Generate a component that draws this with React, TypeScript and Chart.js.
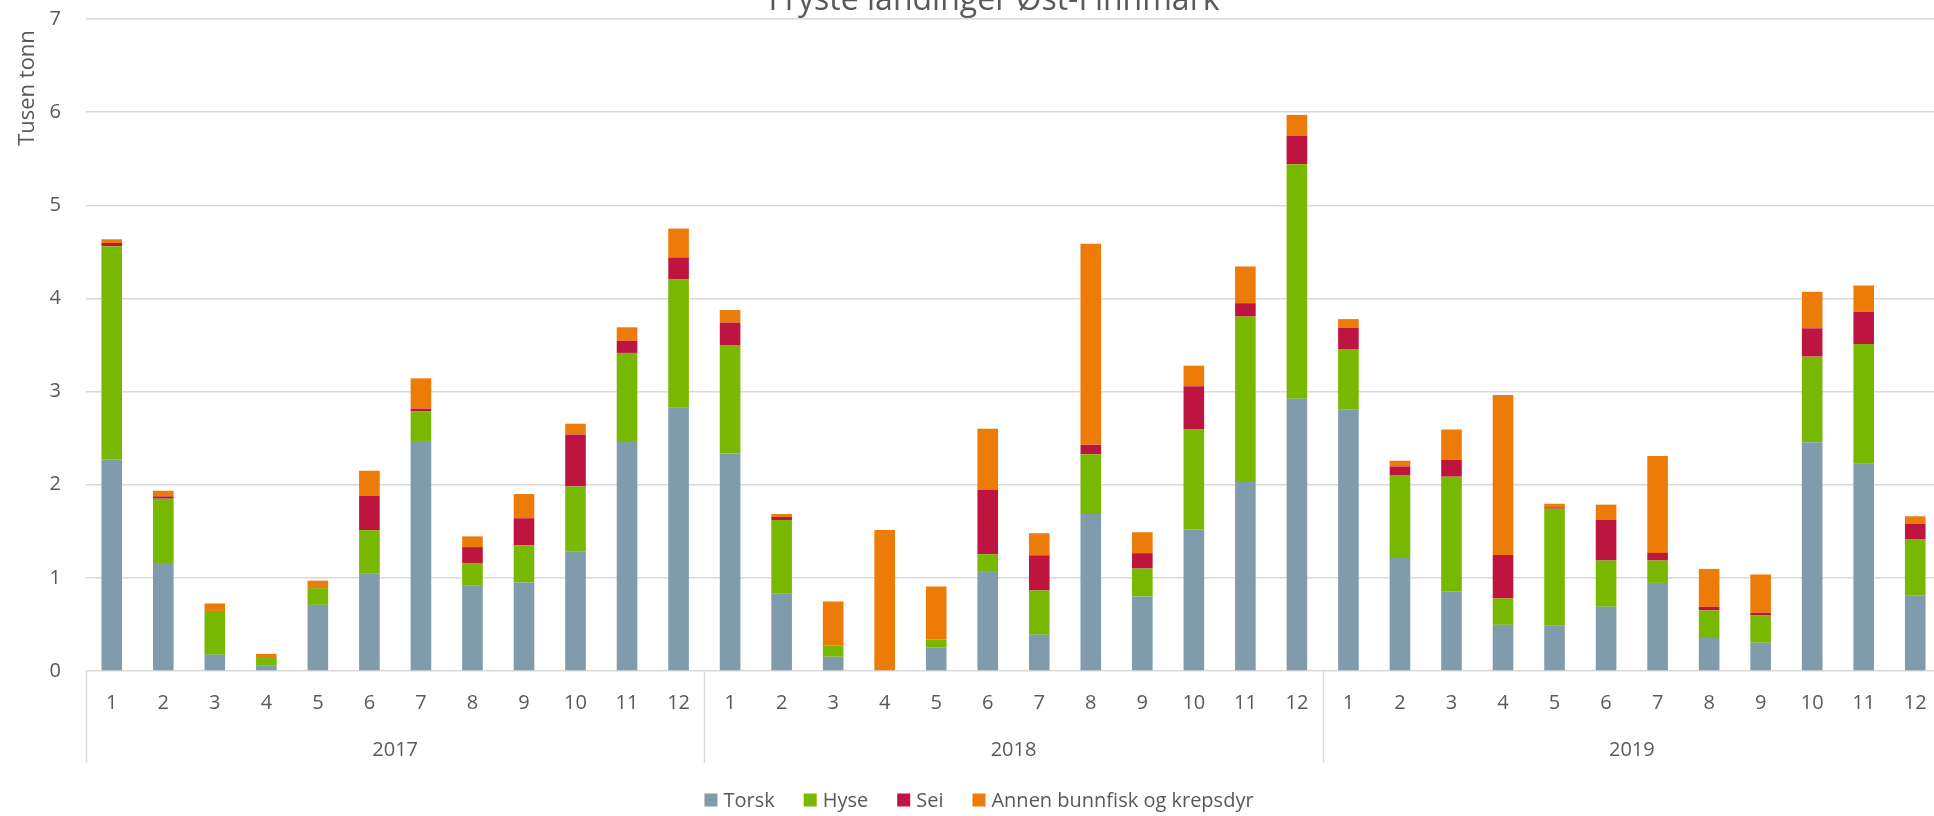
import React, { useEffect, useRef } from "react";
import { Chart, registerables } from "chart.js";

Chart.register(...registerables);

// ---- data ----
const chartTitle = "Fryste landinger Øst-Finnmark";
const yAxisTitle = "Tusen tonn";
const years = ["2017", "2018", "2019"];
const months = ["1", "2", "3", "4", "5", "6", "7", "8", "9", "10", "11", "12"];
const seriesNames = ["Torsk", "Hyse", "Sei", "Annen bunnfisk og krepsdyr"];
const seriesColors = ["#7F9BAC", "#78B800", "#BE1440", "#EC7B08"];

const torsk = [
  2.27, 1.16, 0.175, 0.056, 0.71, 1.045, 2.47, 0.92, 0.95, 1.28, 2.47, 2.825,
  2.335, 0.83, 0.153, 0, 0.25, 1.064, 0.39, 1.686, 0.8, 1.52, 2.03, 2.924,
  2.81, 1.214, 0.857, 0.496, 0.486, 0.689, 0.946, 0.354, 0.304, 2.457, 2.225, 0.814,
];
const hyse = [
  2.29, 0.69, 0.47, 0.083, 0.18, 0.465, 0.32, 0.24, 0.4, 0.7, 0.945, 1.38,
  1.165, 0.79, 0.118, 0, 0.09, 0.19, 0.474, 0.64, 0.3, 1.072, 1.775, 2.517,
  0.646, 0.89, 1.229, 0.283, 1.257, 0.497, 0.24, 0.296, 0.296, 0.918, 1.286, 0.597,
];
const sei = [
  0.035, 0.025, 0, 0, 0, 0.37, 0.027, 0.17, 0.29, 0.56, 0.13, 0.235,
  0.24, 0.035, 0, 0, 0, 0.69, 0.378, 0.102, 0.165, 0.466, 0.144, 0.305,
  0.229, 0.092, 0.182, 0.467, 0.014, 0.435, 0.082, 0.039, 0.025, 0.304, 0.346, 0.171,
];
const annen = [
  0.04, 0.06, 0.08, 0.045, 0.08, 0.27, 0.325, 0.115, 0.26, 0.115, 0.145, 0.31,
  0.135, 0.03, 0.475, 1.513, 0.568, 0.657, 0.237, 2.16, 0.225, 0.22, 0.394, 0.224,
  0.093, 0.061, 0.325, 1.718, 0.039, 0.165, 1.039, 0.407, 0.411, 0.392, 0.282, 0.079,
];
const seriesValues = [torsk, hyse, sei, annen];
const yMin = 0;
const yMax = 7;
const yStep = 1;

const categories = years.flatMap((y) => months.map((m) => `${y}-${m}`));

const FONT = '"Open Sans", sans-serif';
const TEXT = "#595959";
const GRID = "#D9D9D9";

const decorPlugin = {
  id: "decor",
  afterDraw(chart: any) {
    const ctx = chart.ctx as CanvasRenderingContext2D;
    const xs = chart.scales.x;
    const area = chart.chartArea;
    const catW = xs.getPixelForValue(1) - xs.getPixelForValue(0);
    ctx.save();

    // month labels
    ctx.fillStyle = TEXT;
    ctx.font = `20px ${FONT}`;
    ctx.textAlign = "center";
    ctx.textBaseline = "middle";
    categories.forEach((_, i) => {
      ctx.fillText(months[i % months.length], xs.getPixelForValue(i), area.bottom + 32);
    });

    // year labels and group separators
    ctx.strokeStyle = GRID;
    ctx.lineWidth = 1.5;
    years.forEach((y, g) => {
      const left = xs.getPixelForValue(g * months.length) - catW / 2;
      const right = left + catW * months.length;
      ctx.fillText(y, (left + right) / 2, area.bottom + 79);
    });
    for (let g = 0; g <= years.length; g++) {
      const bx = Math.round(xs.getPixelForValue(0) - catW / 2 + g * catW * months.length) + 0.5;
      ctx.beginPath();
      ctx.moveTo(bx, area.bottom);
      ctx.lineTo(bx, area.bottom + 92);
      ctx.stroke();
    }

    // chart title (partly cut at the top)
    ctx.font = `32px ${FONT}`;
    ctx.textBaseline = "alphabetic";
    ctx.fillText(chartTitle, 994, 10);

    // y axis title
    ctx.save();
    ctx.translate(28, 88);
    ctx.rotate(-Math.PI / 2);
    ctx.font = `22px ${FONT}`;
    ctx.textBaseline = "middle";
    ctx.fillText(yAxisTitle, 0, 0);
    ctx.restore();

    // legend
    ctx.font = `20px ${FONT}`;
    ctx.textAlign = "left";
    ctx.textBaseline = "middle";
    const sq = 13;
    const gapText = 6;
    const gapItem = 29;
    const widths = seriesNames.map((n) => ctx.measureText(n).width);
    const total =
      widths.reduce((a, b) => a + b, 0) + seriesNames.length * (sq + gapText) + (seriesNames.length - 1) * gapItem;
    let lx = 979 - total / 2;
    const ly = 800;
    seriesNames.forEach((n, i) => {
      ctx.fillStyle = seriesColors[i];
      ctx.fillRect(lx, ly - sq / 2, sq, sq);
      ctx.fillStyle = TEXT;
      ctx.fillText(n, lx + sq + gapText, ly + 1);
      lx += sq + gapText + widths[i] + gapItem;
    });

    ctx.restore();
  },
};

export default function App() {
  const canvasRef = useRef<HTMLCanvasElement | null>(null);

  useEffect(() => {
    if (!canvasRef.current) return;
    const chart = new Chart(canvasRef.current, {
      type: "bar",
      data: {
        labels: categories,
        datasets: seriesNames.map((name, i) => ({
          label: name,
          data: seriesValues[i],
          backgroundColor: seriesColors[i],
          borderWidth: 0,
          barPercentage: 0.4,
          categoryPercentage: 1.0,
        })),
      },
      options: {
        animation: false,
        responsive: false,
        maintainAspectRatio: false,
        layout: { padding: { top: 19, right: 19, bottom: 45, left: 0 } },
        plugins: {
          legend: { display: false },
          title: { display: false },
          tooltip: { enabled: false },
        },
        scales: {
          x: {
            stacked: true,
            ticks: { display: false },
            grid: { display: false },
            border: { display: false },
            afterFit: (s: any) => {
              s.height = 100;
              s.paddingLeft = 0;
              s.paddingRight = 0;
            },
          },
          y: {
            stacked: true,
            min: yMin,
            max: yMax,
            ticks: {
              stepSize: yStep,
              padding: 25,
              color: TEXT,
              font: { family: FONT, size: 20 },
            },
            grid: { color: GRID, lineWidth: 1.5, drawTicks: false },
            border: { display: false },
            afterFit: (s: any) => {
              s.width = 86;
              s.paddingTop = 0;
              s.paddingBottom = 0;
            },
          },
        },
      },
      plugins: [decorPlugin],
    });
    return () => chart.destroy();
  }, []);

  return (
    <div
      style={{
        position: "fixed",
        left: 0,
        top: 0,
        width: 1934,
        height: 816,
        overflow: "hidden",
        background: "#fff",
      }}
    >
      <canvas ref={canvasRef} width={1960} height={816} style={{ width: 1960, height: 816, display: "block" }} />
    </div>
  );
}
